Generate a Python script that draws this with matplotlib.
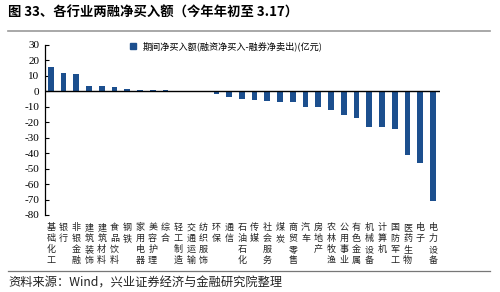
import matplotlib

matplotlib.use("Agg")

import matplotlib.pyplot as plt
import numpy as np
from matplotlib.lines import Line2D

plt.rcParams["font.family"] = ["Noto Sans CJK SC", "DejaVu Sans"]
plt.rcParams["axes.unicode_minus"] = False

industries = [
    "基础化工", "银行", "非银金融", "建筑装饰", "建筑材料", "食品饮料", "钢铁",
    "家用电器", "美容护理", "综合", "轻工制造", "交通运输", "纺织服饰", "环保",
    "通信", "石油石化", "传媒", "社会服务", "煤炭", "商贸零售", "汽车", "房地产",
    "农林牧渔", "公用事业", "有色金属", "机械设备", "计算机", "国防军工",
    "医药生物", "电子", "电力设备",
]
net_buy = [
    15.7, 11.8, 11.5, 3.5, 3.2, 2.8, 1.3, 1.2, 0.8, 0.6, 0.3, 0.1, -0.1, -2.0,
    -3.7, -5.2, -5.8, -6.5, -6.9, -6.9, -10.1, -10.4, -12.3, -15.5, -17.2,
    -22.9, -22.9, -24.6, -41.0, -46.2, -71.0,
]
y_ticks = list(range(-80, 31, 10))

bar_color = "#1C4F8E"

fig = plt.figure(figsize=(5, 2.92), dpi=100)
ax = fig.add_axes([0.09, 0.2637, 0.79, 0.5822])

x = np.arange(len(industries))
ax.bar(x, net_buy, width=0.45, color=bar_color, zorder=2)
ax.axhline(0, color="black", linewidth=1.0, zorder=3)

ax.set_xlim(-0.45, len(industries) - 0.45)
ax.set_ylim(-80, 30)
ax.set_yticks(y_ticks)
ax.set_yticklabels([str(v) for v in y_ticks], fontfamily="Liberation Serif", fontsize=8)
ax.tick_params(axis="y", direction="in", length=3, width=0.8, pad=4)

ax.set_xticks(x)
ax.set_xticklabels(["\n".join(name) for name in industries], fontsize=6.5,
                   linespacing=1.25, va="top", color="#222222")
ax.tick_params(axis="x", length=0, pad=6)

for side in ("top", "right", "bottom"):
    ax.spines[side].set_visible(False)
ax.spines["left"].set_linewidth(0.9)

handle = Line2D([], [], marker="s", linestyle="none", color=bar_color, markersize=4)
ax.legend([handle], ["期间净买入额(融资净买入-融券净卖出)(亿元)"], loc="upper left",
          bbox_to_anchor=(0.19, 1.04), frameon=False, fontsize=6.6,
          handletextpad=0.1, borderaxespad=0)

fig.text(0.016, 0.958, "图 33、各行业两融净买入额（今年年初至 3.17）", fontsize=9.6,
         fontweight="bold", va="center", ha="left")
fig.add_artist(Line2D([0.016, 0.98], [0.893, 0.893], color="#999999", linewidth=1.2))
fig.add_artist(Line2D([0.016, 0.98], [0.072, 0.072], color="#777777", linewidth=0.9))
fig.text(0.016, 0.032, "资料来源：Wind，兴业证券经济与金融研究院整理", fontsize=8.8,
         va="center", ha="left", color="#222222")

fig.savefig("out.png", dpi=100)
plt.close(fig)
